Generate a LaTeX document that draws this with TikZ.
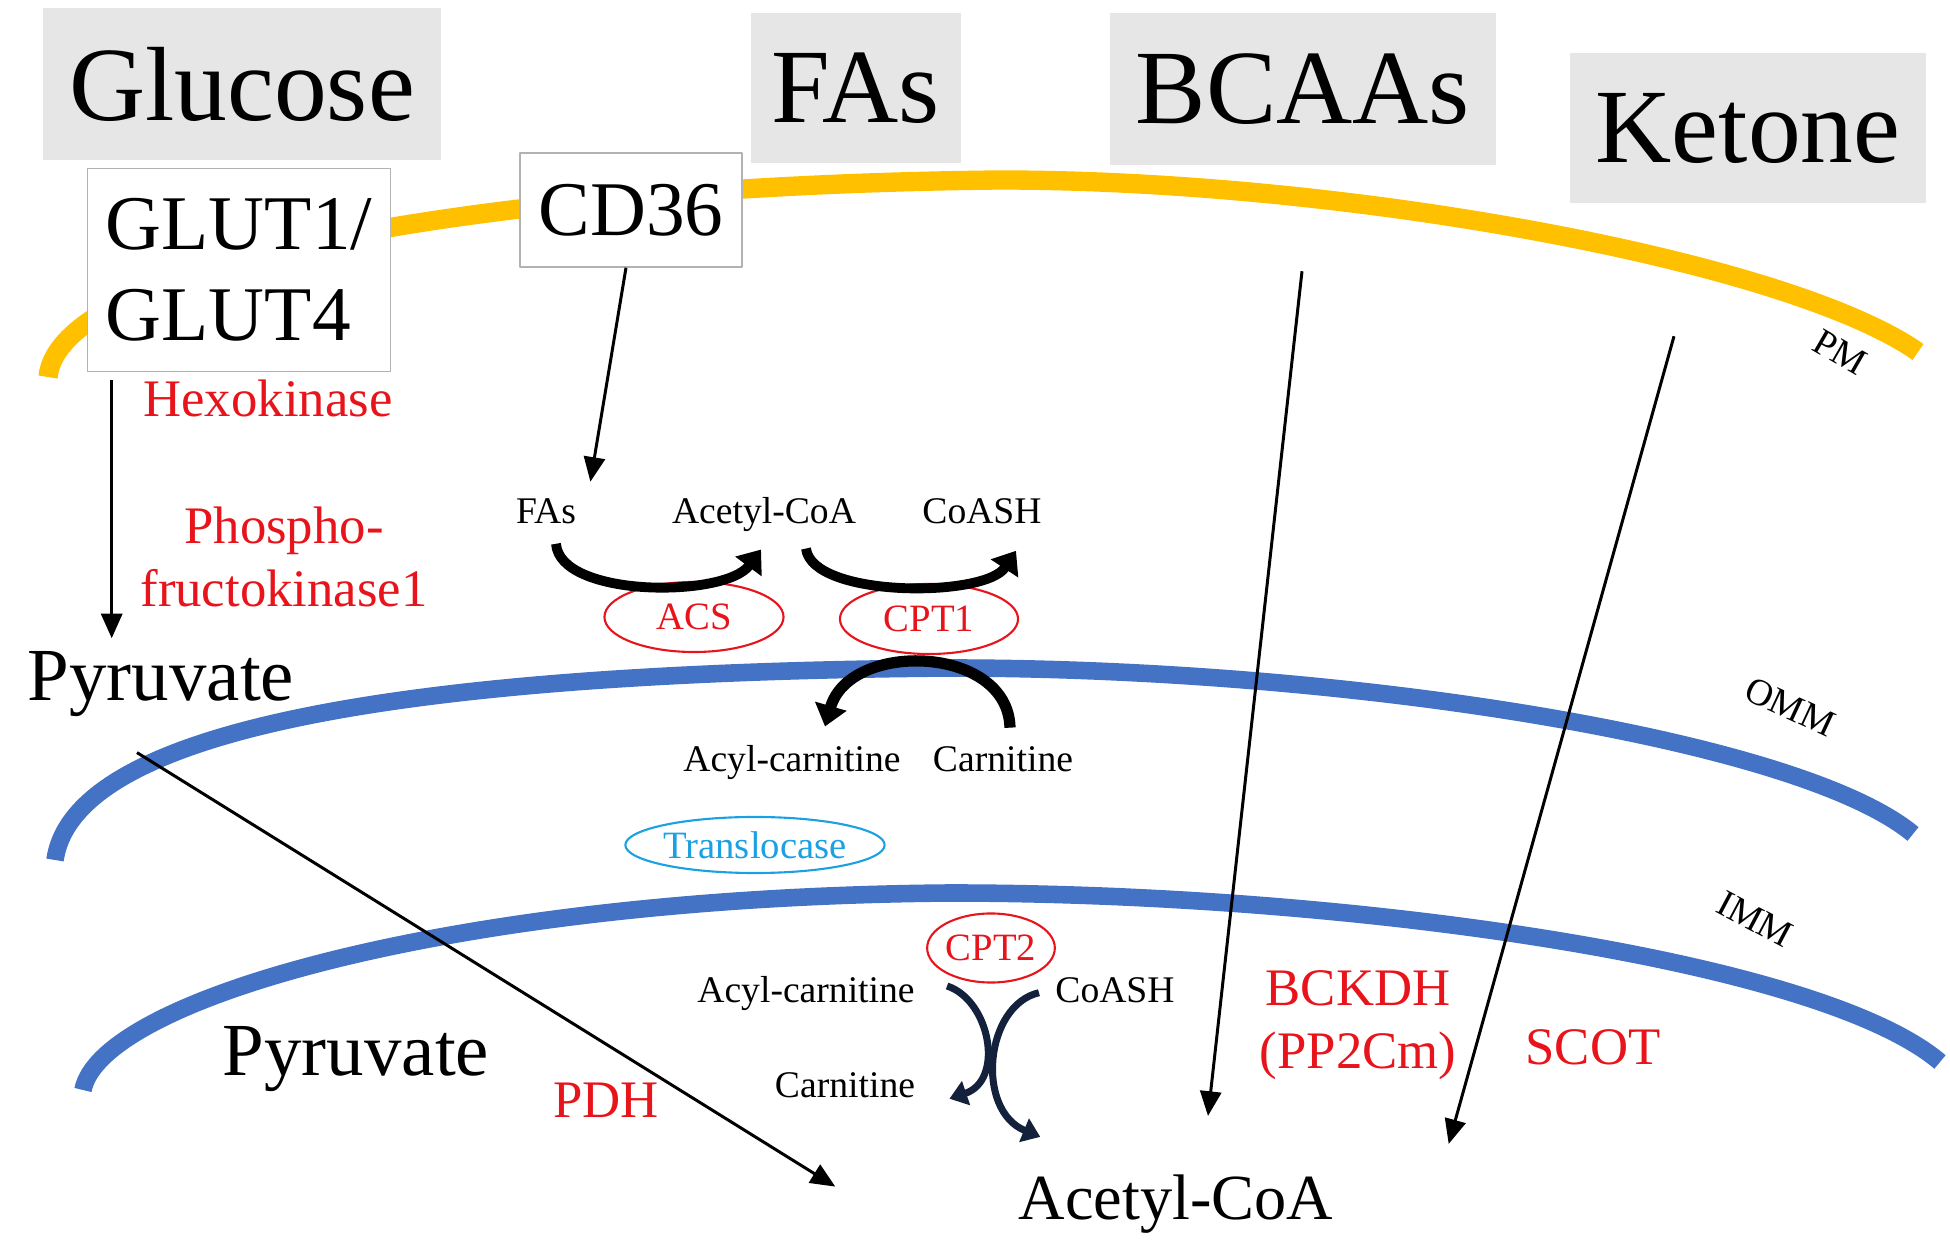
\documentclass[tikz,border=0pt]{standalone}
\usepackage{fontspec}
\setmainfont{Liberation Serif}
\usetikzlibrary{arrows.meta,shapes.geometric}
\definecolor{pmyellow}{HTML}{FFC000}
\definecolor{mblue}{HTML}{4472C4}
\definecolor{boxgray}{HTML}{E6E6E6}
\definecolor{tlblue}{HTML}{1BA1E2}
\definecolor{xnavy}{HTML}{14213D}
\definecolor{enzred}{HTML}{E8141C}
\begin{document}
\begin{tikzpicture}[x=0.01cm,y=-0.01cm,>={Triangle[length=7pt,width=6pt]},line join=round,
    sub/.style={fill=boxgray,inner sep=0pt,font=\fontsize{30}{30}\selectfont},
    port/.style={draw=gray!60,fill=white,inner sep=0pt,align=left,font=\fontsize{22}{26}\selectfont},
    enz/.style={text=enzred,align=center,font=\fontsize{15}{18}\selectfont},
    lbl/.style={anchor=base,font=\fontsize{21.3}{24}\selectfont},
    sm/.style={anchor=base,font=\fontsize{10.7}{12}\selectfont},
    oval/.style={ellipse,draw=enzred,text=enzred,line width=0.6pt,inner sep=0pt,font=\fontsize{11}{12}\selectfont},
    mem/.style={line width=5pt},
    fat/.style={line width=2.8pt,-{Triangle[length=6pt,width=9pt]}},
    xarr/.style={xnavy,line width=2pt,-{Triangle[length=5pt,width=7pt]}},
    flux/.style={line width=0.85pt,->}]
\useasboundingbox (0,0) rectangle (1950,1243);

% membranes
\draw[mem,pmyellow,line width=5.5pt] (48,377) .. controls (60,260) and (500,185) .. (1000,180) .. controls (1350,180) and (1790,262) .. (1918,352);
\draw[mem,mblue] (55,860) .. controls (75,720) and (450,672) .. (950,668) .. controls (1350,668) and (1800,740) .. (1913,834);
\draw[mem,mblue] (83,1090) .. controls (100,1000) and (450,897) .. (950,893) .. controls (1350,893) and (1820,960) .. (1940,1062);
\node[sm,anchor=center,rotate=-30] (pm) at (1840,352) {PM};
\node[sm,anchor=center,rotate=-25] (omm) at (1790,707) {OMM};
\node[sm,anchor=center,rotate=-28] (imm) at (1755,919) {IMM};

% substrates and transporters
\node[sub,minimum width=3.97cm,minimum height=1.51cm] (glc) at (242,84) {Glucose};
\node[sub,minimum width=2.10cm,minimum height=1.49cm] (fa) at (856,88) {FAs};
\node[sub,minimum width=3.85cm,minimum height=1.51cm] (bcaa) at (1303,89) {BCAAs};
\node[sub,minimum width=3.55cm,minimum height=1.49cm] (ket) at (1748,128) {Ketone};
\node[port,minimum width=3.03cm,minimum height=2.03cm] (glut) at (239,270) {GLUT1/\\GLUT4};
\node[port,minimum width=2.22cm,minimum height=1.14cm] (cd36) at (631,210) {CD36};

% glycolysis
\node[enz,anchor=base] (hk) at (268,417) {Hexokinase};
\node[enz] (pfk) at (284,557) {Phospho-\\fructokinase1};
\node[lbl] (pyr1) at (161,701) {Pyruvate};
\node[lbl] (pyr2) at (356,1076) {Pyruvate};
\node[enz,anchor=base] (pdh) at (606,1118) {PDH};
\node[anchor=base,font=\fontsize{18.3}{20}\selectfont] (acoa2) at (1176,1219) {Acetyl-CoA};
\draw[flux] ([shift={(25,8)}]glut.south west) -- ++(0,258);
\draw[flux] ([shift={(-24,23)}]pyr1.south) -- ([shift={(-171,-17)}]acoa2.west);

% fatty acids
\node[sm] (fa2) at (546,524) {FAs};
\node[sm] (acoa1) at (764,524) {Acetyl-CoA};
\node[sm] (coash1) at (982,524) {CoASH};
\node[oval,minimum width=1.79cm,minimum height=0.70cm] (acs) at (694,617) {ACS};
\node[oval,minimum width=1.78cm,minimum height=0.70cm] (cpt1) at (929,619) {CPT1};
\node[sm] (acyl1) at (792,772) {Acyl-carnitine};
\node[sm] (carn1) at (1003,772) {Carnitine};
\node[oval,draw=tlblue,text=tlblue,minimum width=2.2cm,minimum height=0.56cm] (tloc) at (755,845) {Translocase};
\node[oval,minimum width=1.22cm,minimum height=0.69cm] (cpt2) at (991,948) {CPT2};
\node[sm] (acyl2) at (806,1003) {Acyl-carnitine};
\node[sm] (coash2) at (1115,1003) {CoASH};
\node[sm] (carn2) at (845,1097) {Carnitine};
\draw[flux] ([shift={(-5,0)}]cd36.south) -- ([shift={(2,-5)}]fa2.north east);
\draw[fat] ([shift={(10,7)}]fa2.south) .. controls (560,598) and (725,598) .. ([shift={(-3,5)}]acoa1.south);
\draw[fat] ([shift={(42,4)}]acoa1.south) .. controls (812,598) and (985,598) .. ([shift={(34,14)}]coash1.south);
\draw[fat,line width=3.2pt] ([shift={(7,-7)}]carn1.north) .. controls (1008,645) and (850,640) .. ([shift={(33,-7)}]acyl1.north);
\draw[xarr] ([shift={(20,-8)}]acyl2.east) .. controls (990,1000) and (1005,1080) .. ([shift={(22,14)}]carn2.east);
\draw[xarr] ([shift={(-4,2)}]coash2.west) .. controls (985,1005) and (975,1110) .. ([shift={(34,-25)}]acoa2.north west);

% amino acids and ketone
\node[enz] (bckdh) at (1358,1025) {BCKDH\\(PP2Cm)};
\node[enz,anchor=base] (scot) at (1593,1065) {SCOT};
\draw[flux] ([shift={(-1,106)}]bcaa.south) -- ([shift={(32,-46)}]acoa2.north);
\draw[flux] ([shift={(-74,133)}]ket.south) -- ([shift={(103,-18)}]acoa2.north east);
\end{tikzpicture}
\end{document}
